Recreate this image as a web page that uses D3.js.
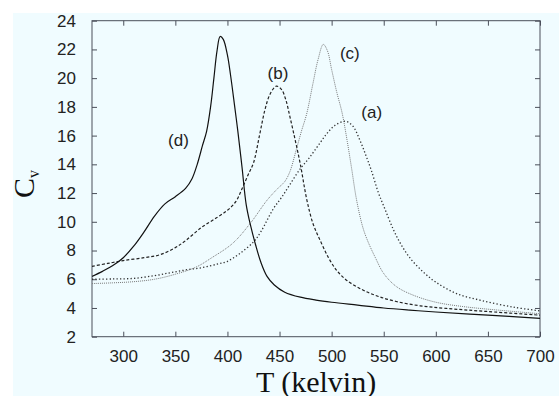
<!DOCTYPE html>
<html>
<head>
<meta charset="utf-8">
<script src="https://cdn.jsdelivr.net/npm/d3@7"></script>
<style>
  body { margin: 0; background: #fff; }
  svg { display: block; }
</style>
</head>
<body>
<svg></svg>
<script>
// curves, [T, Cv]
var curveA = [[270,6.0],[290,6.02],[310,6.06],[330,6.25],[345,6.45],[360,6.65],[375,6.8],[390,7.05],[400,7.25],[412,7.8],[425,8.6],[432,9.3],[444,10.9],[452,11.7],[460,12.6],[470,13.7],[478,14.4],[487,15.3],[495,16.1],[503,16.7],[513,17.0],[520,16.7],[527,15.7],[533,14.6],[538,13.6],[545,12.0],[550,11.1],[559,9.5],[566,8.5],[575,7.5],[588,6.5],[600,5.8],[620,5.0],[645,4.5],[675,4.05],[700,3.8]];
var curveB = [[270,6.9],[285,7.1],[300,7.3],[320,7.5],[335,7.7],[350,8.2],[360,8.7],[375,9.6],[390,10.3],[400,10.8],[408,11.4],[414,12.3],[420,13.3],[425,14.1],[431,16.1],[436,17.8],[441,18.9],[447,19.45],[452,19.2],[456,18.5],[460,17.3],[465,15.7],[470,14.0],[476,11.6],[482,9.9],[489,8.7],[497,7.5],[505,6.6],[515,5.9],[530,5.25],[545,4.8],[562,4.45],[585,4.15],[610,3.97],[650,3.75],[700,3.5]];
var curveC = [[270,5.7],[290,5.75],[310,5.83],[330,6.0],[350,6.35],[370,6.85],[385,7.5],[405,8.5],[422,9.9],[438,11.5],[448,12.3],[455,12.8],[460,13.5],[466,15.0],[471,16.3],[476,17.5],[482,19.6],[487,21.3],[492,22.35],[496,21.9],[500,20.6],[505,19.0],[510,17.6],[515,15.6],[519,13.8],[524,11.5],[530,9.6],[535,8.6],[542,7.5],[550,6.4],[562,5.5],[578,4.9],[600,4.4],[626,4.1],[660,3.85],[700,3.6]];
var curveD = [[270,6.2],[280,6.55],[290,6.95],[300,7.5],[310,8.3],[320,9.3],[330,10.4],[340,11.25],[350,11.75],[360,12.35],[366,13.0],[371,14.0],[376,15.3],[380,16.3],[384,18.1],[387,20.0],[390,21.9],[393,22.9],[396,22.7],[400,21.6],[403,20.2],[407,18.0],[410,16.3],[414,13.8],[418,11.2],[422,9.8],[427,8.4],[432,7.2],[438,6.2],[445,5.6],[455,5.1],[470,4.75],[485,4.55],[500,4.4],[525,4.2],[550,4.0],[575,3.85],[600,3.72],[650,3.5],[700,3.28]];

var xTicks = [300,350,400,450,500,550,600,650,700];
var yTicks = [2,4,6,8,10,12,14,16,18,20,22,24];

// label positions in data units (baseline)
var curveLabels = [
  {text:'(a)', T:538.5, cv:17.25},
  {text:'(b)', T:448.5, cv:19.95},
  {text:'(c)', T:517.5, cv:21.35},
  {text:'(d)', T:353, cv:15.3}
];

var width = 559, height = 396;
var svg = d3.select('svg').attr('width', width).attr('height', height);

svg.append('rect')
  .attr('x', 13).attr('y', 13)
  .attr('width', width - 13).attr('height', height - 13)
  .attr('fill', '#f0fcff');

var margin = {top: 20.7, right: 19, bottom: 59.3, left: 92},
  chartWidth = width - margin.left - margin.right,
  chartHeight = height - margin.top - margin.bottom,
  g = svg.append('g').attr('transform', 'translate(' + margin.left + ',' + margin.top + ')');

var x = d3.scaleLinear().domain([270, 700]).range([0, chartWidth]);
var y = d3.scaleLinear().domain([2, 24]).range([chartHeight, 0]);

var axisColor = '#4a4f5a';
var tickFont = '"Liberation Sans", Arial, sans-serif';

function styleAxis(sel, showText) {
  sel.select('.domain').remove();
  sel.selectAll('.tick line').attr('stroke', axisColor);
  sel.selectAll('.tick text')
    .attr('fill', '#222')
    .style('font-family', tickFont)
    .style('font-size', '17px');
  if (!showText) sel.selectAll('.tick text').remove();
}

g.append('g')
  .attr('transform', 'translate(0,' + chartHeight + ')')
  .call(d3.axisBottom(x).tickValues(xTicks).tickSize(-5).tickPadding(13))
  .call(styleAxis, true);
g.append('g')
  .call(d3.axisTop(x).tickValues(xTicks).tickSize(-5))
  .call(styleAxis, false);
g.append('g')
  .call(d3.axisLeft(y).tickValues(yTicks).tickSize(-5).tickPadding(16))
  .call(styleAxis, true);
g.append('g')
  .attr('transform', 'translate(' + chartWidth + ',0)')
  .call(d3.axisRight(y).tickValues(yTicks).tickSize(-5))
  .call(styleAxis, false);

g.append('rect')
  .attr('width', chartWidth).attr('height', chartHeight)
  .attr('fill', 'none').attr('stroke', axisColor).attr('stroke-width', 1);

var line = d3.line()
  .x(function(d) { return x(d[0]); })
  .y(function(d) { return y(d[1]); })
  .curve(d3.curveCatmullRom.alpha(0.5));

svg.append('clipPath').attr('id', 'plotclip')
  .append('rect').attr('width', chartWidth).attr('height', chartHeight);

var curves = g.append('g').attr('clip-path', 'url(#plotclip)');

curves.append('path').datum(curveA)
  .attr('d', line).attr('fill', 'none')
  .attr('stroke', '#333').attr('stroke-width', 1.3)
  .attr('stroke-dasharray', '1.3,2.2');
curves.append('path').datum(curveC)
  .attr('d', line).attr('fill', 'none')
  .attr('stroke', '#777').attr('stroke-width', 1)
  .attr('stroke-dasharray', '1,1');
curves.append('path').datum(curveB)
  .attr('d', line).attr('fill', 'none')
  .attr('stroke', '#222').attr('stroke-width', 1.2)
  .attr('stroke-dasharray', '3,2');
curves.append('path').datum(curveD)
  .attr('d', line).attr('fill', 'none')
  .attr('stroke', '#111').attr('stroke-width', 1.2);

g.selectAll('text.clabel')
  .data(curveLabels)
  .enter().append('text')
  .attr('class', 'clabel')
  .attr('x', function(d) { return x(d.T); })
  .attr('y', function(d) { return y(d.cv); })
  .attr('text-anchor', 'middle')
  .attr('fill', '#222')
  .style('font-family', tickFont)
  .style('font-size', '17px')
  .text(function(d) { return d.text; });

// axis titles
svg.append('text')
  .attr('x', margin.left + chartWidth / 2)
  .attr('y', 392)
  .attr('text-anchor', 'middle')
  .attr('fill', '#111')
  .style('font-family', '"Liberation Serif", "Times New Roman", serif')
  .style('font-size', '30px')
  .text('T (kelvin)');

var yt = svg.append('text')
  .attr('transform', 'translate(34,184) rotate(-90)')
  .attr('text-anchor', 'middle')
  .attr('fill', '#111')
  .style('font-family', '"Liberation Serif", "Times New Roman", serif')
  .style('font-size', '30px');
yt.append('tspan').text('C');
yt.append('tspan').attr('dy', 5).style('font-size', '16px').text('v');
</script>
</body>
</html>
